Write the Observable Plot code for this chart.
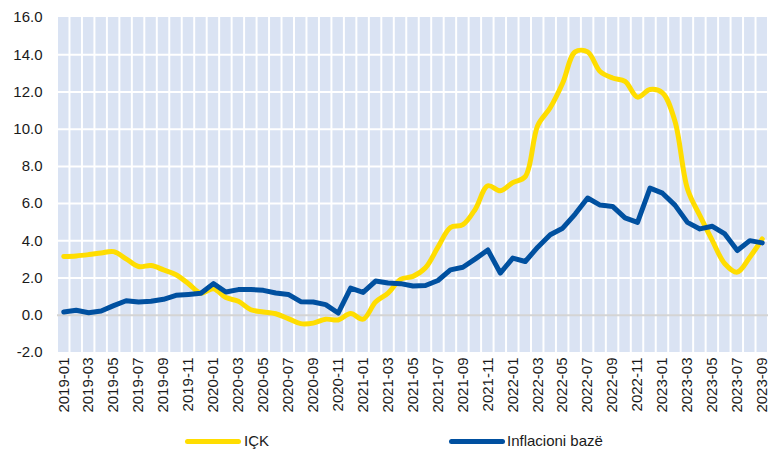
<!DOCTYPE html>
<html><head><meta charset="utf-8">
<script src="https://cdn.jsdelivr.net/npm/d3@7"></script>
<script src="https://cdn.jsdelivr.net/npm/@observablehq/plot@0.6"></script>
<style>
body{margin:0;background:#fff;font-family:"Liberation Sans",Arial,sans-serif;}
#wrap{width:770px;height:458px;position:relative;overflow:hidden;}
#legend{position:relative;height:33px;width:770px;font-size:15px;color:#1a1a1a;}
.sw{position:absolute;top:14px;height:5px;width:56px;border-radius:3px;}
.lt{position:absolute;top:7px;line-height:18px;}
</style></head><body><div id="wrap"><div id="chart"></div>
<div id="legend">
<div class="sw" style="left:185px;background:#ffdd00"></div><div class="lt" style="left:244px">IÇK</div>
<div class="sw" style="left:449px;background:#0050a0"></div><div class="lt" style="left:507px">Inflacioni bazë</div>
</div></div>
<script>
const months = ["2019-01","2019-02","2019-03","2019-04","2019-05","2019-06","2019-07","2019-08","2019-09","2019-10","2019-11","2019-12",
"2020-01","2020-02","2020-03","2020-04","2020-05","2020-06","2020-07","2020-08","2020-09","2020-10","2020-11","2020-12",
"2021-01","2021-02","2021-03","2021-04","2021-05","2021-06","2021-07","2021-08","2021-09","2021-10","2021-11","2021-12",
"2022-01","2022-02","2022-03","2022-04","2022-05","2022-06","2022-07","2022-08","2022-09","2022-10","2022-11","2022-12",
"2023-01","2023-02","2023-03","2023-04","2023-05","2023-06","2023-07","2023-08","2023-09"];
const ick = [3.16,3.19,3.26,3.35,3.42,3.03,2.62,2.67,2.44,2.18,1.7,1.19,
1.43,0.95,0.75,0.3,0.18,0.08,-0.18,-0.45,-0.42,-0.21,-0.25,0.09,
-0.21,0.71,1.19,1.93,2.09,2.55,3.66,4.72,4.87,5.71,6.96,6.69,
7.13,7.45,10.2,11.15,12.48,14.15,14.15,13.1,12.75,12.57,11.72,12.13,
11.95,10.43,6.8,5.35,4.01,2.77,2.32,3.12,4.1];
const core = [0.18,0.27,0.14,0.23,0.52,0.78,0.71,0.75,0.86,1.07,1.12,1.18,
1.7,1.25,1.38,1.39,1.34,1.2,1.12,0.73,0.71,0.57,0.12,1.46,
1.23,1.84,1.73,1.7,1.57,1.6,1.87,2.44,2.58,3.03,3.51,2.27,
3.07,2.89,3.66,4.33,4.68,5.44,6.3,5.92,5.85,5.23,4.99,6.83,
6.56,5.92,4.99,4.64,4.78,4.37,3.48,4.01,3.89];
const yTicks = [-2,0,2,4,6,8,10,12,14,16];
const xTickLabels = months.filter((d,i)=>i%2===0);

const data = months.map((m,i)=>({m, ick: ick[i], core: core[i]}));
const plot = Plot.plot({
  width:770, height:425, marginTop:17, marginBottom:73, marginLeft:57, marginRight:2,
  style:{fontFamily:'"Liberation Sans", Arial, sans-serif', fontSize:"15px", color:"#1a1a1a", background:"white"},
  x:{type:"band", domain: months, round:false, paddingInner:0.16, paddingOuter:0.08, ticks: xTickLabels, tickRotate:-90, tickSize:0, tickPadding:5, label:null},
  y:{domain:[-2,16], ticks:yTicks, tickFormat: d=>d.toFixed(1), tickSize:0, tickPadding:15, label:null},
  marks:[
    Plot.barY(months,{x:d=>d, y1:-2, y2:16, fill:"#dae3f3"}),
    Plot.ruleY(yTicks.filter(d=>d>-2 && d<16 && d!==0),{stroke:"white", strokeWidth:2}),
    Plot.ruleY([0],{stroke:"#d4d4d4", strokeWidth:2}),
    Plot.line(data,{x:"m", y:"ick", stroke:"#ffdd00", strokeWidth:5, curve:"catmull-rom"}),
    Plot.line(data,{x:"m", y:"core", stroke:"#0050a0", strokeWidth:5})
  ]
});
document.getElementById("chart").appendChild(plot);
</script></body></html>
